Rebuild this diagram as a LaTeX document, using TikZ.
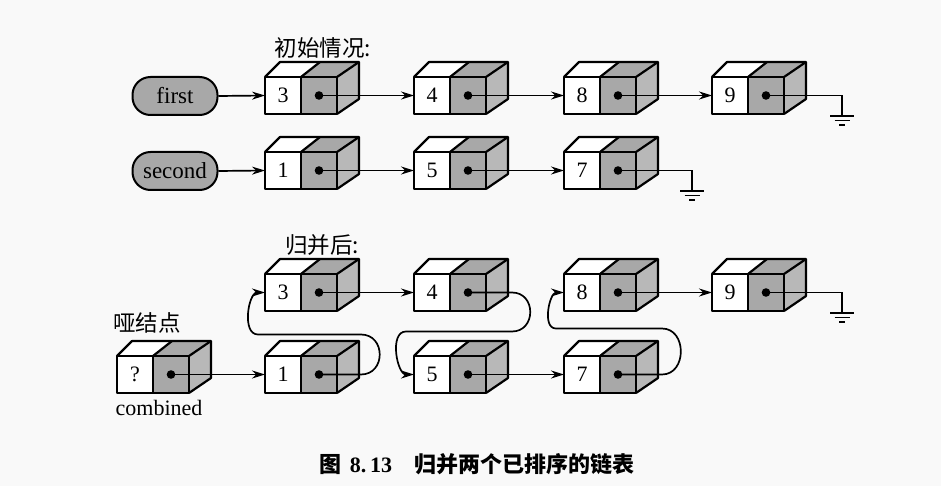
\documentclass[tikz,border=0pt]{standalone}
\usepackage{fontspec}
\setmainfont{Liberation Serif}
\newfontfamily\cjk{Noto Sans CJK SC}
\usetikzlibrary{arrows.meta}
\definecolor{cellgrey}{gray}{0.66}
\definecolor{sidegrey}{gray}{0.72}
\definecolor{bggrey}{gray}{0.975}
\tikzset{
  boxline/.style={line width=2.2pt, line join=round},
  ptrline/.style={line width=1.7pt, -{Stealth[length=13pt,width=8pt]}},
  plainline/.style={line width=1.7pt},
  digit/.style={font=\fontsize{22}{24}\selectfont, inner sep=0pt},
  lbl/.style={font=\cjk\fontsize{22.5}{26}\selectfont, inner sep=0pt},
  latinlbl/.style={font=\fontsize{22}{24}\selectfont, inner sep=0pt},
  caplbl/.style={font=\fontsize{22}{26}\selectfont\bfseries, inner sep=0pt},
  term/.style={draw, line width=2pt, fill=cellgrey, rounded corners=18pt,
    minimum width=85pt, minimum height=38pt, inner sep=0pt,
    font=\fontsize{23}{26}\selectfont},
  lnode/.pic={
    \fill[white] (0,0) rectangle (36,37);
    \fill[cellgrey] (36,0) rectangle (72,37);
    \fill[white] (0,0) -- (15,-15) -- (55,-15) -- (36,0) -- cycle;
    \fill[cellgrey] (36,0) -- (55,-15) -- (94,-15) -- (72,0) -- cycle;
    \fill[sidegrey] (72,0) -- (94,-15) -- (94,22) -- (72,37) -- cycle;
    \draw[boxline] (0,0) rectangle (72,37);
    \draw[boxline] (36,0) -- (36,37);
    \draw[boxline] (0,0) -- (15,-15) -- (94,-15) -- (94,22) -- (72,37);
    \draw[boxline] (72,0) -- (94,-15);
    \draw[boxline] (36,0) -- (55,-15);
    \node[digit] (-val) at (18,18.5) {#1};
    \fill (54,18.5) circle (4.3);
    \coordinate (-in) at (0,18.5);
    \coordinate (-ptr) at (54,18.5);
  },
  groundsym/.pic={
    \draw[line width=1.8pt] (-12,0) -- (12,0);
    \draw[line width=1.8pt] (-7.5,4.5) -- (7.5,4.5);
    \draw[line width=1.8pt] (-3,9) -- (3,9);
  }
}
\begin{document}
\begin{tikzpicture}[x=1pt,y=-1pt]
\fill[bggrey] (0,0) rectangle (941,486);
\useasboundingbox (0,0) rectangle (941,486);

% ---------- initial state ----------
\node[lbl] (t1) at (323,48) {初始情况:};
\node[term] (first) at (175,96) {first};
\node[term] (second) at (175,171) {second};

\pic (a3) at (265,77) {lnode=3};
\pic (a4) at (414,77) {lnode=4};
\pic (a8) at (564,77) {lnode=8};
\pic (a9) at (712,77) {lnode=9};

\pic (c1) at (265,152) {lnode=1};
\pic (c5) at (414,152) {lnode=5};
\pic (c7) at (564,152) {lnode=7};

\draw[ptrline] (first.east) -- (a3-in);
\draw[ptrline] (a3-ptr) -- (a4-in);
\draw[ptrline] (a4-ptr) -- (a8-in);
\draw[ptrline] (a8-ptr) -- (a9-in);
\coordinate (g1) at (842,116);
\draw[plainline] (a9-ptr) -| (g1);
\pic at (g1) {groundsym};

\draw[ptrline] (second.east) -- (c1-in);
\draw[ptrline] (c1-ptr) -- (c5-in);
\draw[ptrline] (c5-ptr) -- (c7-in);
\coordinate (g2) at (692,191);
\draw[plainline] (c7-ptr) -| (g2);
\pic at (g2) {groundsym};

% ---------- after merge ----------
\node[lbl] (t2) at (322,245) {归并后:};
\node[lbl] (dlbl) at (147,323) {哑结点};
\node[latinlbl] (comb) at (159,408) {combined};

\pic (d) at (117,356) {lnode=?};
\pic (b3) at (265,274) {lnode=3};
\pic (b4) at (414,274) {lnode=4};
\pic (b8) at (564,274) {lnode=8};
\pic (b9) at (712,274) {lnode=9};
\pic (b1) at (265,356) {lnode=1};
\pic (b5) at (414,356) {lnode=5};
\pic (b7) at (564,356) {lnode=7};

\draw[ptrline] (d-ptr) -- (b1-in);
\draw[ptrline] (b1-ptr) -- ++(42,0) to[out=0,in=0,looseness=1.6] ++(0,-40)
  -- ++(-103,0) to[out=180,in=180] (b3-in);
\draw[ptrline] (b3-ptr) -- (b4-in);
\draw[ptrline] (b4-ptr) -- ++(44,0) to[out=0,in=0,looseness=1.6] ++(0,39)
  -- ++(-106,0) to[out=180,in=180] (b5-in);
\draw[ptrline] (b5-ptr) -- (b7-in);
\draw[ptrline] (b7-ptr) -- ++(44,0) to[out=0,in=0,looseness=1.4] ++(0,-46)
  -- ++(-106,0) to[out=180,in=180] (b8-in);
\draw[ptrline] (b8-ptr) -- (b9-in);
\coordinate (g3) at (842,313);
\draw[plainline] (b9-ptr) -| (g3);
\pic at (g3) {groundsym};

% ---------- caption ----------
\node[caplbl] (cap) at (477,464) {{\cjk\bfseries 图}\hspace{8pt}8.\,13\hspace{22pt}{\cjk\bfseries 归并两个已排序的链表}};
\end{tikzpicture}
\end{document}
